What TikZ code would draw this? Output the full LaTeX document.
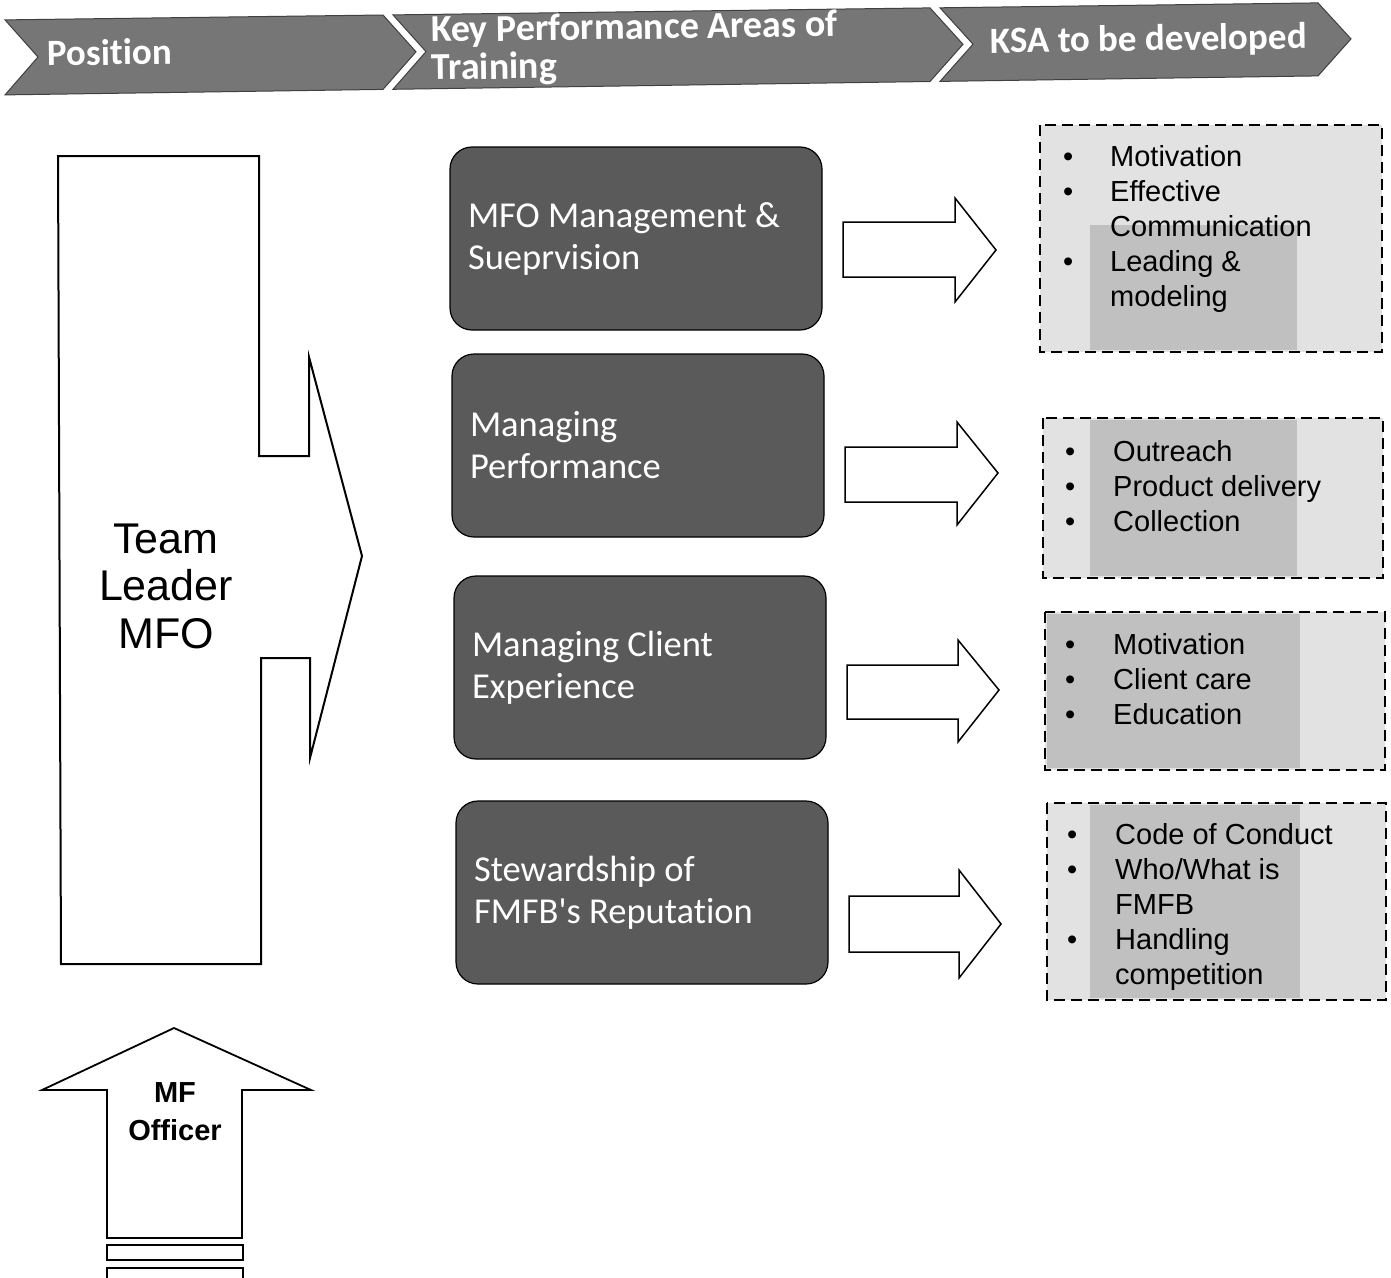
\documentclass[tikz,border=0pt]{standalone}
\usepackage{fontspec}
\setmainfont{Liberation Sans}
\newfontfamily\calibri[Ligatures=NoCommon]{Carlito}
\definecolor{hdrfill}{HTML}{767676}
\definecolor{kpafill}{HTML}{5A5A5A}
\definecolor{ksafill}{HTML}{E2E2E2}
\definecolor{ksadark}{HTML}{C0C0C0}
\newcommand{\blt}{\makebox[12pt]{\textbullet}}
\begin{document}
\begin{tikzpicture}[x=1pt,y=-1pt,
  chevron/.style={fill=hdrfill, draw=black!75, line width=1pt, line join=miter},
  hdrtext/.style={text=white, font=\calibri\bfseries\fontsize{37}{38}\selectfont,
    inner sep=0, rotate=0.8, align=left},
  kpa/.style={rounded corners=22pt, fill=kpafill, draw=black, line width=1.2pt,
    minimum width=372pt, minimum height=183pt, text width=336pt, inner xsep=18pt,
    align=flush left, text=white, font=\calibri\fontsize{36.5}{42}\selectfont},
  blockarrow/.style={draw=black, line width=1.5pt, fill=white, line join=miter},
  ksabox/.style={draw=black, line width=2.4pt, dash pattern=on 11pt off 6pt},
  ksalist/.style={anchor=north west, inner sep=0, font=\fontsize{29}{35}\selectfont},
]
\useasboundingbox (0,0) rectangle (1391,1277);
\fill[white] (0,0) rectangle (1391,1277);

% ---- header band of three chevrons ----
\draw[chevron] (5,19.9) -- (38,57.0) -- (5,94.9) -- (383,89.4) -- (416,51.8) -- (383,15.0) -- cycle;
\draw[chevron] (393,14.9) -- (426,51.6) -- (393,89.3) -- (930,81.5) -- (963,44.3) -- (930,7.9) -- cycle;
\draw[chevron] (940,7.8) -- (973,44.2) -- (940,81.4) -- (1318,75.9) -- (1351,38.9) -- (1318,2.9) -- cycle;
\node[hdrtext, anchor=west] (hpos) at (47,53) {Position};
\node[hdrtext, anchor=west, font=\calibri\bfseries\fontsize{38}{38}\selectfont] (hkpa) at (431,51)
  {Key Performance Areas of\\Training};
\node[hdrtext, anchor=west] (hksa) at (990,43) {KSA to be developed};

% ---- position column ----
\draw[blockarrow, line width=2pt] (58,156) -- (259,156) -- (259,456) -- (309,456) -- (309,357)
  -- (362,556) -- (310,758) -- (310,658) -- (261,658) -- (261,964) -- (61,964) -- cycle;
\node[font=\fontsize{43}{47.5}\selectfont, align=center, inner sep=0] (tl) at (166,586)
  {Team\\Leader\\MFO};

\draw[blockarrow, line width=1.8pt] (107,1238) -- (107,1090) -- (42,1090) -- (174,1028)
  -- (311,1090) -- (242,1090) -- (242,1238) -- cycle;
\node[font=\bfseries\fontsize{29}{38}\selectfont, align=center, inner sep=0] (mfo) at (175,1112)
  {MF\\Officer};
\draw[blockarrow, line width=1.3pt] (107,1245) rectangle (243,1260);
\draw[blockarrow, line width=1.3pt] (107,1268) rectangle (243,1290);

% ---- key performance areas ----
\node[kpa] (kpa1) at (636,238.5) {MFO Management \&\\Sueprvision};
\node[kpa] (kpa2) at (638,445.5) {Managing\\Performance};
\node[kpa] (kpa3) at (640,667.5) {Managing Client\\Experience};
\node[kpa] (kpa4) at (642,892.5) {Stewardship of\\FMFB's Reputation};

% ---- block arrows towards the skills ----
\draw[blockarrow] (843,222) -- (955,222) -- (955,198) -- (996,250) -- (955,302) -- (955,277) -- (843,277) -- cycle;
\draw[blockarrow] (845,447) -- (957,447) -- (957,422) -- (998,473) -- (957,525) -- (957,502) -- (845,502) -- cycle;
\draw[blockarrow] (847,665) -- (958,665) -- (958,640) -- (999,690) -- (958,742) -- (958,719) -- (847,719) -- cycle;
\draw[blockarrow] (849,896) -- (959,896) -- (959,870) -- (1001,924) -- (959,978) -- (959,952) -- (849,952) -- cycle;

% ---- skills to be developed ----
\fill[ksafill] (1040,125) rectangle (1382,352);
\fill[ksadark] (1090,225) rectangle (1297,350);
\draw[ksabox] (1040,125) rectangle (1382,352);
\node[ksalist] (ksa1) at (1062,141.5) {\begin{tabular}{@{}l@{\hspace{36pt}}l@{}}
  \blt & Motivation\\ \blt & Effective\\ & Communication\\ \blt & Leading \&\\ & modeling
  \end{tabular}};

\fill[ksafill] (1043,418) rectangle (1383,578);
\fill[ksadark] (1090,420) rectangle (1297,576);
\draw[ksabox] (1043,418) rectangle (1383,578);
\node[ksalist] (ksa2) at (1064,436.5) {\begin{tabular}{@{}l@{\hspace{37pt}}l@{}}
  \blt & Outreach\\ \blt & Product delivery\\ \blt & Collection
  \end{tabular}};

\fill[ksafill] (1045,612) rectangle (1385,770);
\fill[ksadark] (1047,614) rectangle (1300,768);
\draw[ksabox] (1045,612) rectangle (1385,770);
\node[ksalist] (ksa3) at (1064,629.5) {\begin{tabular}{@{}l@{\hspace{37pt}}l@{}}
  \blt & Motivation\\ \blt & Client care\\ \blt & Education
  \end{tabular}};

\fill[ksafill] (1047,803) rectangle (1386,1000);
\fill[ksadark] (1090,805) rectangle (1300,998);
\draw[ksabox] (1047,803) rectangle (1386,1000);
\node[ksalist] (ksa4) at (1066,819.5) {\begin{tabular}{@{}l@{\hspace{37pt}}l@{}}
  \blt & Code of Conduct\\ \blt & Who/What is\\ & FMFB\\ \blt & Handling\\ & competition
  \end{tabular}};
\end{tikzpicture}
\end{document}
